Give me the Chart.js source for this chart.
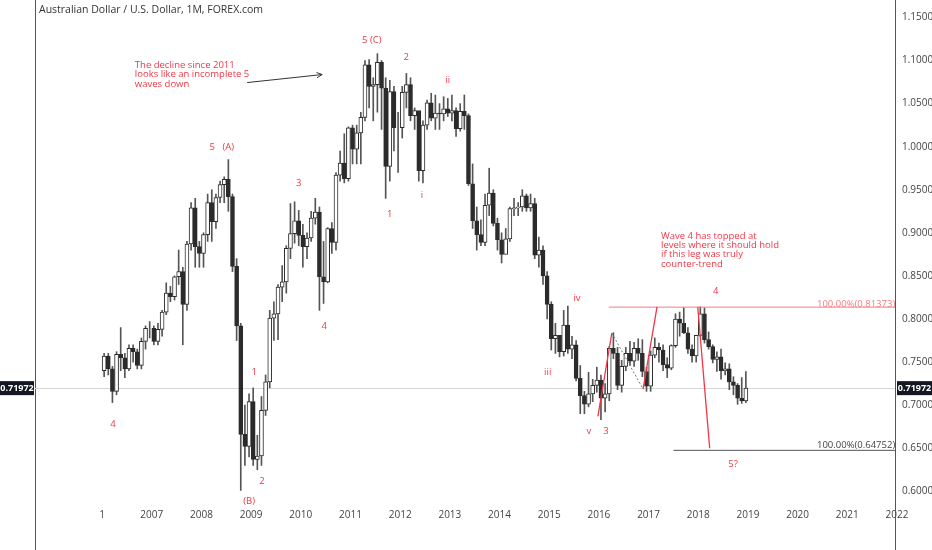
<!DOCTYPE html>
<html>
<head>
<meta charset="utf-8">
<script src="https://cdn.jsdelivr.net/npm/chart.js@4.4.0/dist/chart.umd.min.js"></script>
<style>
  body { margin: 0; background: #fff; }
  #wrap { width: 932px; height: 550px; position: relative; }
</style>
</head>
<body>
<div id="wrap"><canvas id="c"></canvas></div>
<script>
// AUD/USD monthly candles, Jan 2006 - Dec 2018
const startYear = 2006;
const opens = [
  .740,.757,.742,.716,.759,.755,.742,.766,.762,.746,.774,.789,
  .789,.774,.788,.808,.830,.826,.849,.855,.817,.887,.929,.884,
  .876,.898,.935,.913,.941,.956,.962,.942,.861,.792,.666,.652,
  .704,.637,.641,.694,.727,.801,.806,.837,.843,.882,.899,.914,
  .897,.884,.894,.917,.924,.849,.843,.905,.889,.967,.981,.963,
  1.022,.997,1.016,1.034,1.095,1.070,1.072,1.098,1.068,.977,1.064,1.022,
  1.022,1.063,1.072,1.036,1.042,.972,1.025,1.051,1.033,1.039,1.038,1.044,
  1.039,1.042,1.021,1.041,1.036,.957,.914,.898,.889,.932,.946,.911,
  .892,.875,.893,.928,.929,.930,.943,.929,.934,.874,.880,.850,
  .817,.777,.781,.762,.793,.765,.770,.731,.711,.701,.713,.723,
  .729,.708,.713,.766,.760,.723,.745,.760,.751,.766,.760,.739,
  .722,.758,.767,.764,.747,.743,.769,.800,.795,.784,.765,.757,
  .781,.806,.776,.768,.753,.756,.740,.742,.727,.723,.708,.705
];
const highs = [
  .760,.760,.745,.762,.790,.760,.770,.770,.765,.778,.792,.797,
  .792,.795,.810,.842,.838,.850,.880,.860,.890,.935,.940,.890,
  .900,.945,.950,.945,.960,.965,.985,.945,.870,.795,.700,.713,
  .720,.665,.710,.735,.810,.820,.840,.862,.885,.934,.936,.926,
  .910,.900,.925,.940,.930,.890,.906,.912,.970,.995,1.015,1.023,
  1.025,1.025,1.040,1.100,1.101,1.080,1.108,1.100,1.080,1.077,1.070,1.040,
  1.070,1.085,1.080,1.045,1.035,1.030,1.054,1.062,1.060,1.050,1.058,1.056,
  1.060,1.045,1.050,1.060,1.038,.980,.930,.915,.945,.975,.950,.917,
  .900,.905,.930,.940,.935,.950,.945,.945,.940,.895,.885,.855,
  .820,.795,.775,.810,.815,.780,.775,.746,.716,.738,.730,.744,
  .735,.725,.768,.784,.767,.752,.767,.774,.773,.777,.776,.744,
  .763,.778,.772,.770,.755,.770,.806,.808,.813,.790,.770,.781,
  .814,.813,.785,.770,.762,.765,.749,.748,.733,.725,.732,.739
];
const lows = [
  .733,.735,.703,.712,.740,.732,.740,.750,.742,.742,.765,.778,
  .770,.770,.780,.805,.820,.822,.840,.770,.810,.880,.860,.860,
  .860,.890,.890,.905,.935,.935,.925,.855,.775,.601,.630,.640,
  .630,.625,.630,.688,.720,.775,.776,.820,.830,.870,.888,.885,
  .860,.870,.890,.910,.810,.818,.842,.876,.880,.960,.958,.960,
  .980,.980,.980,1.030,1.045,1.030,1.040,1.020,.940,.960,.995,.970,
  1.010,1.045,1.030,1.020,.960,.958,1.020,1.030,1.020,1.020,1.030,1.035,
  1.030,1.012,1.018,1.020,.955,.905,.880,.885,.885,.920,.908,.880,
  .865,.880,.890,.920,.920,.925,.925,.925,.870,.860,.840,.800,
  .764,.760,.756,.757,.760,.754,.728,.690,.690,.698,.704,.715,
  .683,.692,.705,.754,.718,.715,.740,.746,.745,.752,.733,.716,
  .716,.755,.750,.740,.732,.741,.767,.780,.783,.760,.750,.750,
  .780,.772,.765,.749,.739,.730,.735,.718,.712,.701,.702,.703
];
const closes = [
  .757,.742,.716,.759,.755,.742,.766,.762,.746,.774,.789,.789,
  .774,.788,.808,.830,.826,.849,.855,.817,.887,.929,.884,.876,
  .898,.935,.913,.941,.956,.962,.942,.861,.792,.666,.652,.704,
  .637,.641,.694,.727,.801,.806,.837,.843,.882,.899,.914,.897,
  .884,.894,.917,.924,.849,.843,.905,.889,.967,.981,.963,1.022,
  .997,1.016,1.034,1.095,1.070,1.072,1.098,1.068,.977,1.064,1.022,1.022,
  1.063,1.072,1.036,1.042,.972,1.025,1.051,1.033,1.039,1.038,1.044,1.039,
  1.042,1.021,1.041,1.036,.957,.914,.898,.889,.932,.946,.911,.892,
  .875,.893,.928,.929,.930,.943,.929,.934,.874,.880,.850,.817,
  .777,.781,.762,.793,.765,.770,.731,.711,.701,.713,.723,.729,
  .708,.713,.766,.760,.723,.745,.760,.751,.766,.760,.739,.722,
  .758,.767,.764,.747,.743,.769,.800,.795,.784,.765,.757,.781,
  .806,.776,.768,.753,.756,.740,.742,.727,.723,.708,.705,.7197
];
const lastPrice = 0.71972;
const yearTicks = [2006,2007,2008,2009,2010,2011,2012,2013,2014,2015,2016,2017,2018,2019,2020,2021,2022];
const yearLabels = ['1','2007','2008','2009','2010','2011','2012','2013','2014','2015','2016','2017','2018','2019','2020','2021','2022'];
const priceTicks = [0.60,0.65,0.70,0.75,0.80,0.85,0.90,0.95,1.00,1.05,1.10,1.15];

// wave labels [text, year, price]
const waveLabels = [
  ['4',2006.22,0.678],['5   (A)',2008.41,0.999],['(B)',2008.96,0.588],
  ['1',2009.06,0.738],['2',2009.22,0.612],['3',2009.96,0.958],['4',2010.47,0.791],
  ['5 (C)',2011.43,1.123],['2',2012.12,1.1035],['1',2011.79,0.922],
  ['ii',2012.96,1.077],['i',2012.44,0.943],['iv',2015.56,0.824],['iii',2014.97,0.738],
  ['v',2015.80,0.670],['3',2016.14,0.670],['4',2018.35,0.8326],['5?',2018.70,0.631]
];
const note1 = ['The decline since 2011','looks like an incomplete 5','waves down'];
const note2 = ['Wave 4 has topped at','levels where it should hold','if this leg was truly','counter-trend'];
const fibHigh = 0.81373, fibLow = 0.64752;

const xs = closes.map((c, i) => startYear + (i + 0.5) / 12);
const bodies = closes.map((c, i) => ({ x: xs[i], y: [Math.min(opens[i], c), Math.max(opens[i], c)] }));
const wicks = closes.map((c, i) => ({ x: xs[i], y: [lows[i], highs[i]] }));
const upColor = closes.map((c, i) => c >= opens[i] ? '#ffffff' : '#2b2b2b');

const RED = '#f23645';

const annot = {
  id: 'annot',
  beforeDatasetsDraw(chart) {
    const { ctx, chartArea: a, scales: { y } } = chart;
    ctx.save();
    ctx.strokeStyle = '#555';
    ctx.lineWidth = 1;
    ctx.beginPath();
    ctx.moveTo(a.left + 0.5, 0); ctx.lineTo(a.left + 0.5, 550);
    ctx.moveTo(a.right + 0.5, 0); ctx.lineTo(a.right + 0.5, 550);
    ctx.stroke();
    // last price line
    ctx.strokeStyle = '#d6d6d6';
    const py = Math.round(y.getPixelForValue(lastPrice)) + 0.5;
    ctx.beginPath(); ctx.moveTo(a.left, py); ctx.lineTo(a.right, py); ctx.stroke();
    ctx.restore();
  },
  afterDatasetsDraw(chart) {
    const { ctx, chartArea: a, scales: { x, y } } = chart;
    const P = (yr, v) => [x.getPixelForValue(yr), y.getPixelForValue(v)];
    ctx.save();
    const line = (p1, p2, col, w, dash) => {
      ctx.strokeStyle = col; ctx.lineWidth = w; ctx.setLineDash(dash || []);
      ctx.beginPath(); ctx.moveTo(p1[0], p1[1]); ctx.lineTo(p2[0], p2[1]); ctx.stroke();
    };
    // fib lines
    line(P(2016.2, fibHigh), [a.right, y.getPixelForValue(fibHigh)], '#f77c80', 1);
    line(P(2017.5, fibLow), [a.right, y.getPixelForValue(fibLow)], '#555', 1);
    // wave legs
    line(P(2015.98, 0.687), P(2016.26, 0.7837), RED, 1.3);
    line(P(2016.26, 0.7837), P(2016.89, 0.7186), '#777', 1, [2, 2]);
    line(P(2016.89, 0.7186), P(2017.17, 0.814), RED, 1.3);
    line(P(2017.99, 0.814), P(2018.23, 0.650), RED, 1.3);
    // arrow
    const s = P(2008.92, 1.0744), e = P(2010.43, 1.0837);
    line(s, e, '#333', 1);
    const ang = Math.atan2(e[1] - s[1], e[0] - s[0]);
    ctx.setLineDash([]);
    ctx.beginPath();
    ctx.moveTo(e[0] - 6 * Math.cos(ang - 0.45), e[1] - 6 * Math.sin(ang - 0.45));
    ctx.lineTo(e[0], e[1]);
    ctx.lineTo(e[0] - 6 * Math.cos(ang + 0.45), e[1] - 6 * Math.sin(ang + 0.45));
    ctx.stroke();

    ctx.font = '9.5px "Open Sans", sans-serif';
    ctx.textBaseline = 'middle';
    ctx.fillStyle = RED;
    ctx.textAlign = 'center';
    waveLabels.forEach(([t, yr, v]) => { const p = P(yr, v); ctx.fillText(t, p[0], p[1]); });
    ctx.textAlign = 'left';
    note1.forEach((t, i) => ctx.fillText(t, x.getPixelForValue(2006.66), 65 + i * 9.5));
    note2.forEach((t, i) => ctx.fillText(t, x.getPixelForValue(2017.25), 236 + i * 9.3));
    ctx.fillStyle = '#f77c80';
    ctx.fillText('100.00%(0.81373)', 817, y.getPixelForValue(fibHigh) - 3);
    ctx.fillStyle = '#444';
    ctx.fillText('100.00%(0.64752)', 817, y.getPixelForValue(fibLow) - 5);

    // title
    ctx.fillStyle = '#333';
    ctx.font = '10.5px "Open Sans", sans-serif';
    ctx.fillText('Australian Dollar / U.S. Dollar, 1M, FOREX.com', 39, 10);

    // price tags
    const py = y.getPixelForValue(lastPrice);
    ctx.fillStyle = '#131722';
    ctx.fillRect(0, py - 7, 34, 14);
    ctx.fillRect(a.right + 2, py - 7, 932 - a.right - 2, 14);
    ctx.fillStyle = '#fff';
    ctx.font = 'bold 9px "Open Sans", sans-serif';
    ctx.textAlign = 'center';
    ctx.fillText('0.71972', 17, py);
    ctx.fillText('0.71972', (a.right + 934) / 2, py);
    ctx.restore();
  }
};

new Chart(document.getElementById('c'), {
  type: 'bar',
  data: {
    datasets: [
      { data: bodies, backgroundColor: upColor, borderColor: '#2b2b2b', borderWidth: 1, borderSkipped: false,
        barThickness: 4, grouped: false, order: 0 },
      { data: wicks, backgroundColor: '#555', borderWidth: 0, barThickness: 1, grouped: false, order: 1 }
    ]
  },
  plugins: [annot],
  options: {
    responsive: true,
    maintainAspectRatio: false,
    animation: false,
    events: [],
    layout: { padding: { left: 35, top: 0, right: 0, bottom: 0 } },
    plugins: { legend: { display: false }, tooltip: { enabled: false } },
    scales: {
      x: {
        type: 'linear', min: 2004.65, max: 2021.96, offset: false,
        grid: { display: false, drawTicks: true, tickLength: 4, color: '#555' },
        border: { display: false },
        afterBuildTicks: s => { s.ticks = yearTicks.map(v => ({ value: v })); },
        afterFit: s => { s.height = 47; },
        ticks: { padding: 2, color: '#444', font: { size: 10, family: '"Open Sans", sans-serif' }, maxRotation: 0,
          callback: v => yearLabels[yearTicks.indexOf(v)] }
      },
      y: {
        position: 'right', min: 0.5864, max: 1.1598,
        grid: { display: false, drawTicks: true, tickLength: 4, color: '#555' },
        border: { display: true, color: '#555' },
        afterBuildTicks: s => { s.ticks = priceTicks.map(v => ({ value: v })); },
        afterFit: s => { s.width = 37; },
        ticks: { padding: 3, color: '#444', font: { size: 10, family: '"Open Sans", sans-serif' },
          callback: v => v.toFixed(5) }
      }
    }
  }
});
</script>
</body>
</html>
